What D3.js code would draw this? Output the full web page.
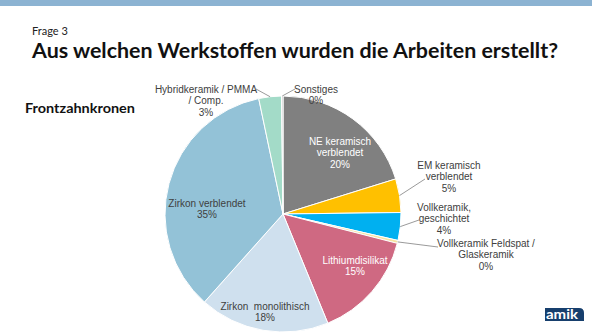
<!DOCTYPE html>
<html><head><meta charset="utf-8">
<script src="https://cdn.jsdelivr.net/npm/d3@7"></script>
<style>body{margin:0;background:#fff;}svg{display:block;}text{white-space:pre;}</style>
</head><body>
<svg id="c" width="592" height="333"></svg>
<script>
const categories = ["NE keramisch verblendet","EM keramisch verblendet","Vollkeramik, geschichtet","Vollkeramik Feldspat / Glaskeramik","Lithiumdisilikat","Zirkon  monolithisch","Zirkon verblendet","Hybridkeramik / PMMA / Comp.","Sonstiges"];
const values = [20.2, 4.6, 3.8, 0.4, 14.8, 17.8, 35.1, 3.1, 0.2];
const percentLabels = ["20%","5%","4%","0%","15%","18%","35%","3%","0%"];
const colors = ["#808080","#ffc000","#00b0f0","#f5e3a0","#cf6982","#cfe0ee","#93c2d7","#a3dbc8","#c0c0c0"];

// label layout (positions of text blocks, not data)
const labelLines = [["NE keramisch","verblendet"],["EM keramisch","verblendet"],["Vollkeramik,","geschichtet"],["Vollkeramik Feldspat /","Glaskeramik"],["Lithiumdisilikat"],["Zirkon  monolithisch"],["Zirkon verblendet"],["Hybridkeramik / PMMA","/ Comp."],["Sonstiges"]];
const labelPos = [[340,141,"#fff",null],[449,165,"#404040",[425,179]],[444,207,"#404040",[419,220]],[486,243,"#404040",[438,247]],[355,260,"#fff",null],[265,306,"#404040",null],[207,203,"#404040",null],[206,89,"#404040",[256,89]],[316,89,"#404040",[295,89]]];

const svg = d3.select("#c");
svg.append("rect").attr("x",0).attr("y",0).attr("width",592).attr("height",6).attr("fill","#8cb3d2");
svg.append("text").attr("x",32).attr("y",35).attr("font-family","Lato, 'Open Sans', sans-serif").attr("font-size",11).attr("fill","#222").text("Frage 3");
svg.append("text").attr("x",32).attr("y",58).attr("font-family","Lato, 'Open Sans', sans-serif").attr("font-weight","bold").attr("font-size",21).attr("fill","#111")
  .attr("textLength",526).attr("lengthAdjust","spacingAndGlyphs").text("Aus welchen Werkstoffen wurden die Arbeiten erstellt?");
svg.append("text").attr("x",25).attr("y",113).attr("font-family","Lato, 'Open Sans', sans-serif").attr("font-weight","bold").attr("font-size",14).attr("fill","#111")
  .attr("textLength",110).attr("lengthAdjust","spacingAndGlyphs").text("Frontzahnkronen");

const cx = 283, cy = 214, r = 118;
const pie = d3.pie().sort(null).value(d=>d)(values);
const arc = d3.arc().innerRadius(0).outerRadius(r);
const g = svg.append("g").attr("transform",`translate(${cx},${cy})`);
g.selectAll("path").data(pie).join("path").attr("d",arc).attr("fill",(d,i)=>colors[i]).attr("stroke","#fff").attr("stroke-width",1);

const font = "'Liberation Sans', Arial, sans-serif";
pie.forEach((d,i)=>{
  const [lx,ly,col,lead] = labelPos[i];
  if (lead) {
    const a = (d.startAngle+d.endAngle)/2;
    const px = cx + r*Math.sin(a), py = cy - r*Math.cos(a);
    svg.append("line").attr("x1",px).attr("y1",py).attr("x2",lead[0]).attr("y2",lead[1]).attr("stroke","#808080").attr("stroke-width",0.8);
  }
  const lines = labelLines[i].concat([percentLabels[i]]);
  const t = svg.append("text").attr("font-family",font).attr("font-size",10).attr("fill",col).attr("text-anchor","middle");
  lines.forEach((s,k)=>{
    t.append("tspan").attr("x",lx).attr("y",ly+3.5+k*11.5).text(s);
  });
});

// logo fragment
svg.append("path").attr("d","M545,308 H579 Q584,308 584,313 V321 H545 Z").attr("fill","#173f6d");
svg.append("text").attr("x",546).attr("y",319).attr("font-family","Lato, sans-serif").attr("font-weight","bold").attr("font-size",14).attr("fill","#fff")
  .attr("textLength",32).attr("lengthAdjust","spacingAndGlyphs").text("amik");
</script>
</body></html>
